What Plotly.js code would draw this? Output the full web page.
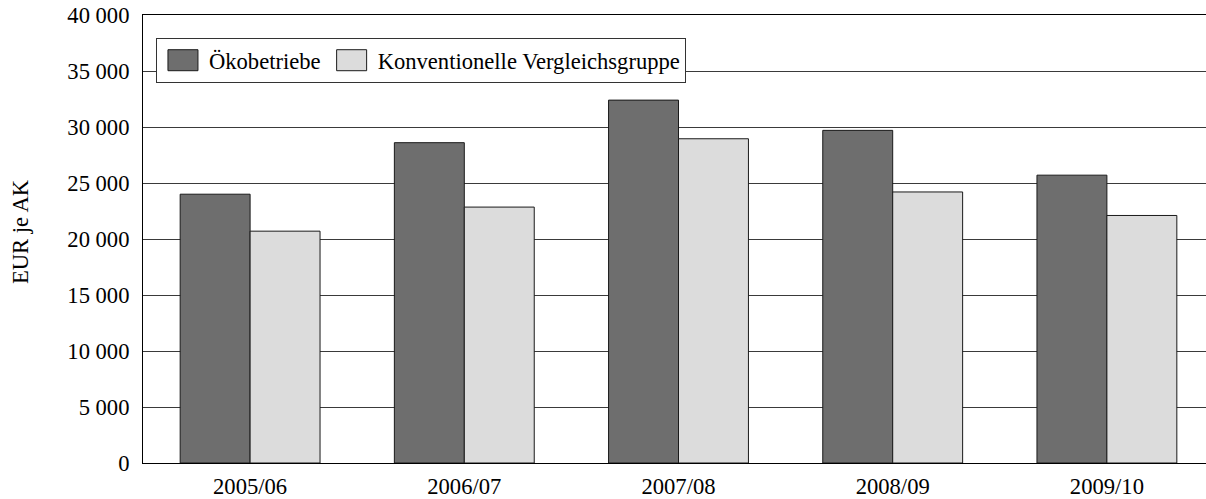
<!DOCTYPE html>
<html>
<head>
<meta charset="utf-8">
<script src="https://cdn.plot.ly/plotly-3.0.1.min.js"></script>
<style>
html,body{margin:0;padding:0;overflow:hidden;background:#fff;}
#chart{width:1215px;height:499px;}
</style>
</head>
<body>
<div id="chart"></div>
<script>
const categories = ["2005/06", "2006/07", "2007/08", "2008/09", "2009/10"];
const oekoValues = [24000, 28600, 32400, 29700, 25700];
const konvValues = [20700, 22850, 28950, 24200, 22100];
const seriesNames = ["Ökobetriebe", "Konventionelle Vergleichsgruppe"];
const yTickValues = [0, 5000, 10000, 15000, 20000, 25000, 30000, 35000, 40000];
const yTickLabels = ["0", "5 000", "10 000", "15 000", "20 000", "25 000", "30 000", "35 000", "40 000"];

const font = {family: "'Liberation Serif', 'Times New Roman', Tinos, 'DejaVu Serif', serif", size: 22.6, color: "#000"};

const traces = [
  {type: "bar", name: seriesNames[0], x: categories, y: oekoValues,
   marker: {color: "#6e6e6e", line: {color: "#1a1a1a", width: 1}}},
  {type: "bar", name: seriesNames[1], x: categories, y: konvValues,
   marker: {color: "#dcdcdc", line: {color: "#1a1a1a", width: 1}}}
];

const layout = {
  width: 1215, height: 499,
  margin: {l: 143, r: 1, t: 15, b: 36, pad: 0},
  paper_bgcolor: "#fff", plot_bgcolor: "#fff",
  font: font,
  barmode: "group",
  bargap: 0.347, bargroupgap: 0,
  showlegend: true,
  legend: {
    orientation: "h", x: 0.0121, y: 0.9486, xanchor: "left", yanchor: "top",
    bordercolor: "#333", borderwidth: 1, bgcolor: "#fff",
    font: font, traceorder: "normal", itemwidth: 42
  },
  xaxis: {
    type: "category", showline: true, linecolor: "#000", linewidth: 1, mirror: true,
    ticks: "", showgrid: false, tickfont: font, ticklabelstandoff: 3
  },
  yaxis: {
    range: [0, 40000], tickvals: yTickValues, ticktext: yTickLabels,
    showline: true, linecolor: "#000", linewidth: 1, mirror: true,
    showgrid: true, gridcolor: "#3a3a3a", gridwidth: 1, zeroline: false,
    ticks: "", tickfont: font, ticklabelstandoff: 8,
    title: {text: "EUR je AK", font: font, standoff: 32}
  }
};

Plotly.newPlot("chart", traces, layout, {displayModeBar: false, staticPlot: true}).then(function (gd) {
  gd.querySelectorAll(".legend .legendpoints path").forEach(function (p) {
    p.setAttribute("d", "M15,10.5H-15V-10.5H15Z");
  });
  var yt = gd.querySelector(".ytitle");
  if (yt) { yt.setAttribute("transform", (yt.getAttribute("transform") || "") + " translate(7,0)"); }
});
</script>
</body>
</html>
